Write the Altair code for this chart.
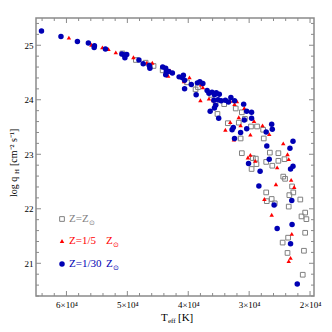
import altair as alt
import pandas as pd

# ---- data ----
solar_T = [50800, 48600, 47000, 46300, 45700, 44200, 40200, 38800, 38400, 36200,
           35500, 35200, 34100, 32200, 31200, 31700, 33500, 30700, 29700, 28700,
           27700, 27600, 31400, 31200, 29400, 28900, 28800, 26600, 25200, 27200,
           26200, 25200, 24200, 29600, 24400, 24100, 22950, 22750, 23400, 27200,
           26300, 27100, 25800, 23500, 21600, 20800, 21400, 20600, 20800, 23600,
           24500, 23700, 21000, 21200]
solar_q = [24.85, 24.73, 24.68, 24.63, 24.62, 24.54, 24.32, 24.19, 24.23, 24.09,
           23.93, 23.74, 23.92, 23.84, 23.77, 23.58, 23.57, 23.65, 23.51, 23.51,
           23.45, 23.29, 23.29, 23.02, 22.93, 22.92, 22.82, 23.03, 23.02, 22.86,
           22.79, 22.88, 22.91, 22.73, 22.59, 22.55, 22.41, 22.30, 22.25, 22.30,
           22.18, 22.14, 22.10, 22.04, 22.17, 21.93, 21.86, 21.81, 21.56, 21.47,
           21.38, 21.19, 21.23, 20.79]

fifth_T = [59600, 55900, 54100, 53100, 51900, 49000, 46800, 45900, 43000, 43300,
           40700, 39800, 37900, 37600, 38000, 36600, 35900, 33100, 32000, 32400,
           30800, 31700, 29200, 33100, 33900, 32500, 31400, 29800, 27800, 26700,
           24400, 23700, 23500, 29800, 30200, 29000, 25400, 23100, 25600, 22600,
           27500, 26300, 23000, 23200, 23500]
fifth_q = [25.14, 25.01, 24.96, 24.93, 24.87, 24.78, 24.68, 24.68, 24.54, 24.44,
           24.34, 24.41, 24.28, 24.23, 23.99, 24.02, 23.99, 23.98, 23.97, 23.92,
           23.85, 23.68, 23.61, 23.59, 23.45, 23.27, 23.53, 23.36, 23.53, 23.37,
           23.20, 23.00, 22.91, 22.99, 22.94, 22.88, 22.76, 22.53, 22.45, 22.40,
           22.18, 21.89, 21.54, 21.10, 21.04]

thirtieth_T = [64100, 60900, 58200, 56400, 55400, 55450, 53600, 50900, 50500, 50400,
               50100, 48100, 47400, 46400, 46300, 44200, 43700, 43600, 43700, 43200,
               42600, 41500, 40800, 41000, 40600, 40600, 39500, 38500, 38100, 37600,
               38700, 36900, 36600, 36100, 35700, 35400, 34900, 35100, 34600, 35800,
               35500, 35700, 36400, 35000, 33900, 33400, 33000, 32400, 30900, 30400,
               29600, 30800, 29600, 32600, 32800, 31400, 30400, 32400, 27200, 26300,
               26200, 27100, 23300, 22800, 26700, 30100, 28200, 22800, 23200, 28400,
               25900, 23000, 22950, 25400, 23200, 22100]
thirtieth_q = [25.26, 25.16, 25.07, 25.04, 24.99, 24.96, 24.93, 24.84, 24.82, 24.77,
               24.83, 24.73, 24.66, 24.63, 24.58, 24.60, 24.58, 24.52, 24.46, 24.52,
               24.49, 24.42, 24.45, 24.41, 24.36, 24.20, 24.28, 24.31, 24.33, 24.30,
               24.09, 24.17, 24.12, 24.14, 24.09, 24.13, 24.10, 24.00, 23.98, 23.99,
               23.90, 23.85, 23.79, 23.66, 23.99, 23.96, 24.04, 23.98, 23.92, 23.79,
               23.77, 23.63, 23.66, 23.49, 23.45, 23.40, 23.47, 23.29, 23.41, 23.55,
               23.46, 23.15, 23.11, 23.24, 22.91, 22.83, 22.69, 22.78, 22.73, 22.42,
               22.07, 22.15, 21.71, 21.64, 21.36, 20.62]

x_major = [20000, 30000, 40000, 50000, 60000]
x_minor = [22000, 24000, 26000, 28000, 32000, 34000, 36000, 38000, 42000, 44000,
           46000, 48000, 52000, 54000, 56000, 58000, 62000, 64000]
y_major = [21, 22, 23, 24, 25]
y_minor = [20.4, 20.6, 20.8, 21.2, 21.4, 21.6, 21.8, 22.2, 22.4, 22.6, 22.8,
           23.2, 23.4, 23.6, 23.8, 24.2, 24.4, 24.6, 24.8, 25.2, 25.4]

legend_main = ["Z=Z", "Z=1/5", "Z=1/30"]
legend_tail = ["", "Z", "Z"]

# ---- styling ----
W = H = 278
FONT = "Liberation Serif"
FRAME = "#8a8a8a"
GRAY = "#808080"
RED = "#ff0000"
BLUE = "#0000b4"

xscale = alt.Scale(domain=[19350, 65000], reverse=True, nice=False, zero=False)
yscale = alt.Scale(domain=[20.4, 25.5], nice=False, zero=False)
xaxis = alt.Axis(values=x_major, ticks=False, domain=False, grid=False, title=None,
                 labelExpr="format(datum.value/10000,'d') + '×10⁴'",
                 labelFont=FONT, labelFontSize=9, labelColor="black", labelPadding=4)
yaxis = alt.Axis(values=y_major, ticks=False, domain=False, grid=False, title=None,
                 labelExpr="format(datum.value,'d')",
                 labelFont=FONT, labelFontSize=9, labelColor="black", labelPadding=3)


def X():
    return alt.X("T:Q", scale=xscale, axis=xaxis)


def Y():
    return alt.Y("q:Q", scale=yscale, axis=yaxis)


def pts(T, q):
    return pd.DataFrame({"T": T, "q": q})


layers = []

# tick marks (inward, all four sides)
for vals, ln in [(x_major, 5), (x_minor, 3)]:
    base = alt.Chart(pd.DataFrame({"T": vals})).mark_rule(color=FRAME, strokeWidth=1)
    layers.append(base.encode(x=X(), y=alt.value(0), y2=alt.value(ln)))
    layers.append(base.encode(x=X(), y=alt.value(H), y2=alt.value(H - ln)))
for vals, ln in [(y_major, 5), (y_minor, 3)]:
    base = alt.Chart(pd.DataFrame({"q": vals})).mark_rule(color=FRAME, strokeWidth=1)
    layers.append(base.encode(y=Y(), x=alt.value(0), x2=alt.value(ln)))
    layers.append(base.encode(y=Y(), x=alt.value(W), x2=alt.value(W - ln)))

gray = alt.Chart(pts(solar_T, solar_q)).mark_point(
    shape="square", filled=False, color=GRAY, size=22, strokeWidth=1, opacity=1
).encode(x=X(), y=Y())
red = alt.Chart(pts(fifth_T, fifth_q)).mark_point(
    shape="triangle-up", filled=True, color=RED, size=20, opacity=1
).encode(x=X(), y=Y())
blue = alt.Chart(pts(thirtieth_T, thirtieth_q)).mark_circle(
    color=BLUE, size=30, opacity=1
).encode(x=X(), y=Y())
layers += [gray, red, blue]

# legend (inside the plot, lower left)
one = pd.DataFrame({"a": [0]})
leg = [
    (alt.Chart(one).mark_point(shape="square", filled=False, color=GRAY, size=22, strokeWidth=1, opacity=1),
     GRAY, 0, 201, 53),
    (alt.Chart(one).mark_point(shape="triangle-up", filled=True, color=RED, size=20, opacity=1),
     RED, 1, 223, 77),
    (alt.Chart(one).mark_circle(color=BLUE, size=30, opacity=1),
     BLUE, 2, 246, 77),
]
for mk, col, i, yy, sunx in leg:
    layers.append(mk.encode(x=alt.value(26), y=alt.value(yy)))
    layers.append(alt.Chart(one).mark_text(
        align="left", baseline="middle", font=FONT, fontSize=11, color=col
    ).encode(x=alt.value(33), y=alt.value(yy), text=alt.value(legend_main[i])))
    if legend_tail[i]:
        layers.append(alt.Chart(one).mark_text(
            align="left", baseline="middle", font=FONT, fontSize=11, color=col
        ).encode(x=alt.value(70), y=alt.value(yy), text=alt.value(legend_tail[i])))
    layers.append(alt.Chart(one).mark_text(
        align="left", baseline="middle", font="DejaVu Sans", fontSize=7, color=col
    ).encode(x=alt.value(sunx), y=alt.value(yy + 4), text=alt.value("⊙")))


# axis titles
def txt(s, x, y, size, angle=0, font=FONT):
    kw = dict(align="left", baseline="alphabetic", font=font, fontSize=size, color="black")
    if angle:
        kw["angle"] = angle
    return alt.Chart(one).mark_text(**kw).encode(
        x=alt.value(x), y=alt.value(y), text=alt.value(s))


layers += [
    txt("T", 125, 303, 11),
    txt("eff", 132, 305, 7),
    txt("[K]", 142, 303, 11),
    txt("log q", -19, 179, 10, angle=270),
    txt("H", -17, 156, 7, angle=270),
    txt("[cm⁻² s⁻¹]", -19, 148, 10, angle=270),
]

chart = alt.layer(*layers).properties(
    width=W, height=H,
    autosize=alt.AutoSizeParams(type="none"),
    padding={"left": 28, "top": 10, "right": 10, "bottom": 28},
    background="white",
).configure_view(stroke=FRAME, strokeWidth=1.5)

chart.save("out.html", embed_options={"renderer": "svg", "actions": False})
